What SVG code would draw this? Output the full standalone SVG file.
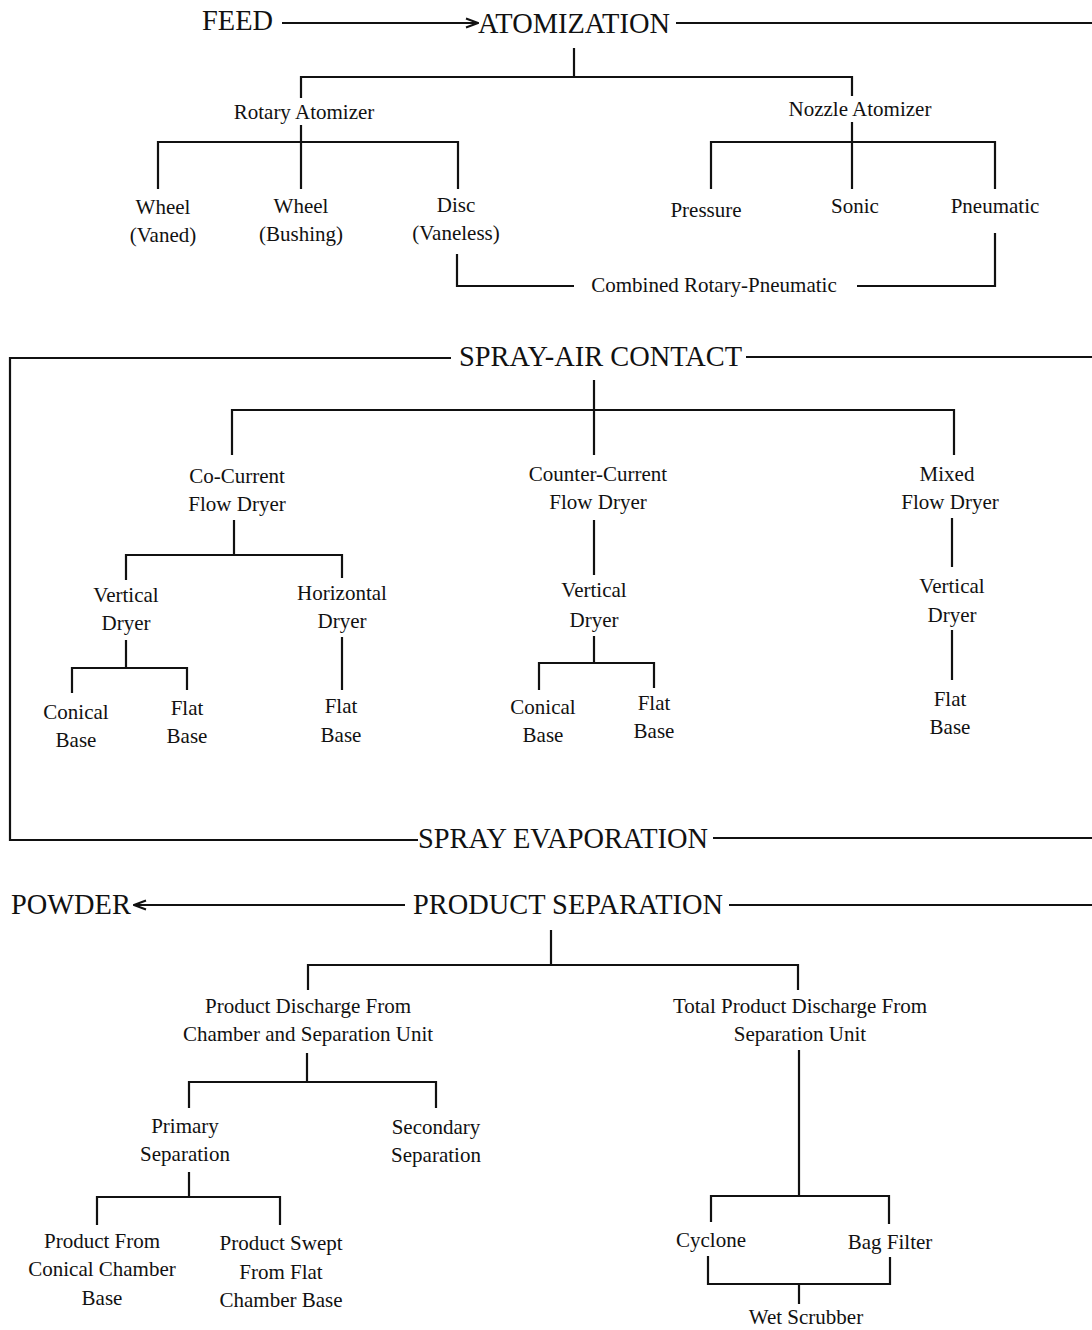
<svg xmlns="http://www.w3.org/2000/svg" width="1092" height="1330" viewBox="0 0 1092 1330">
  <style>
    text { font-family: "Liberation Serif", "Times New Roman", serif; fill: #111; text-anchor: middle; }
    .big { font-size: 28.4px; }
    .lbl { font-size: 21px; }
    .big.start { text-anchor: start; }
    #connectors path, #connectors line { stroke: #111; stroke-width: 2.2; fill: none; }
  </style>
  <defs>
    <marker id="chev" viewBox="0 0 14 12" refX="13" refY="6" markerWidth="14" markerHeight="12" markerUnits="userSpaceOnUse" orient="auto">
      <path d="M1 1.5 L13 6 L1 10.5" fill="none" stroke="#111" stroke-width="2"/>
    </marker>
  </defs>
  <rect width="1092" height="1330" fill="#fff"/>

  <g id="connectors">
    <!-- feed / atomization -->
    <line x1="282" y1="23" x2="478" y2="23" marker-end="url(#chev)"/>
    <line x1="676" y1="23" x2="1092" y2="23"/>
    <line x1="574" y1="48" x2="574" y2="77"/>
    <path d="M301 98 V77 H852 V96"/>
    <path d="M301 125 V189"/>
    <path d="M158 189 V142 H458 V189"/>
    <path d="M852 122 V189"/>
    <path d="M711 189 V142 H995 V189"/>
    <path d="M457 254 V286 H574"/>
    <path d="M857 286 H995 V233"/>

    <!-- spray-air contact frame -->
    <path d="M451 358 H10 V840 H418"/>
    <line x1="746" y1="357" x2="1092" y2="357"/>
    <line x1="713" y1="838" x2="1092" y2="838"/>
    <line x1="594" y1="380" x2="594" y2="455"/>
    <path d="M232 455 V410 H954 V455"/>

    <!-- co-current -->
    <line x1="234" y1="520" x2="234" y2="555"/>
    <path d="M126 580 V555 H342 V578"/>
    <line x1="126" y1="640" x2="126" y2="668"/>
    <path d="M72 693 V668 H187 V690"/>
    <line x1="342" y1="637" x2="342" y2="690"/>

    <!-- counter-current -->
    <line x1="594" y1="520" x2="594" y2="575"/>
    <line x1="594" y1="636" x2="594" y2="663"/>
    <path d="M539 690 V663 H654 V688"/>

    <!-- mixed -->
    <line x1="952" y1="518" x2="952" y2="567"/>
    <line x1="952" y1="630" x2="952" y2="680"/>

    <!-- product separation -->
    <line x1="405" y1="905" x2="134" y2="905" marker-end="url(#chev)"/>
    <line x1="729" y1="905" x2="1092" y2="905"/>
    <line x1="551" y1="930" x2="551" y2="965"/>
    <path d="M308 990 V965 H798 V990"/>
    <line x1="307" y1="1053" x2="307" y2="1082"/>
    <path d="M189 1108 V1082 H436 V1108"/>
    <line x1="189" y1="1172" x2="189" y2="1197"/>
    <path d="M97 1225 V1197 H280 V1225"/>
    <line x1="799" y1="1050" x2="799" y2="1196"/>
    <path d="M711 1222 V1196 H889 V1224"/>
    <path d="M708 1256 V1284 H890 V1257"/>
    <line x1="799" y1="1284" x2="799" y2="1304"/>
  </g>

  <!-- stage headings -->
  <g id="feed"><text class="big start" x="202" y="30">FEED</text></g>
  <g id="atomization"><text class="big start" x="478" y="33">ATOMIZATION</text></g>
  <g id="spray-air-contact"><text class="big start" x="459" y="366">SPRAY-AIR CONTACT</text></g>
  <g id="spray-evaporation"><text class="big start" x="418" y="848">SPRAY EVAPORATION</text></g>
  <g id="powder"><text class="big start" x="11" y="914">POWDER</text></g>
  <g id="product-separation"><text class="big start" x="413" y="914">PRODUCT SEPARATION</text></g>

  <!-- atomizers -->
  <g id="rotary-atomizer"><text class="lbl" x="304" y="119">Rotary Atomizer</text></g>
  <g id="nozzle-atomizer"><text class="lbl" x="860" y="116">Nozzle Atomizer</text></g>
  <g id="wheel-vaned"><text class="lbl" x="163" y="214">Wheel</text><text class="lbl" x="163" y="242">(Vaned)</text></g>
  <g id="wheel-bushing"><text class="lbl" x="301" y="213">Wheel</text><text class="lbl" x="301" y="241">(Bushing)</text></g>
  <g id="disc-vaneless"><text class="lbl" x="456" y="212">Disc</text><text class="lbl" x="456" y="240">(Vaneless)</text></g>
  <g id="pressure"><text class="lbl" x="706" y="217">Pressure</text></g>
  <g id="sonic"><text class="lbl" x="855" y="213">Sonic</text></g>
  <g id="pneumatic"><text class="lbl" x="995" y="213">Pneumatic</text></g>
  <g id="combined"><text class="lbl" x="714" y="292">Combined Rotary-Pneumatic</text></g>

  <!-- dryer types -->
  <g id="co-current"><text class="lbl" x="237" y="483">Co-Current</text><text class="lbl" x="237" y="511">Flow Dryer</text></g>
  <g id="counter-current"><text class="lbl" x="598" y="481">Counter-Current</text><text class="lbl" x="598" y="509">Flow Dryer</text></g>
  <g id="mixed"><text class="lbl" x="947" y="481">Mixed</text><text class="lbl" x="950" y="509">Flow Dryer</text></g>
  <g id="co-vertical"><text class="lbl" x="126" y="602">Vertical</text><text class="lbl" x="126" y="630">Dryer</text></g>
  <g id="co-horizontal"><text class="lbl" x="342" y="600">Horizontal</text><text class="lbl" x="342" y="628">Dryer</text></g>
  <g id="co-conical"><text class="lbl" x="76" y="719">Conical</text><text class="lbl" x="76" y="747">Base</text></g>
  <g id="co-flat"><text class="lbl" x="187" y="715">Flat</text><text class="lbl" x="187" y="743">Base</text></g>
  <g id="co-h-flat"><text class="lbl" x="341" y="713">Flat</text><text class="lbl" x="341" y="742">Base</text></g>
  <g id="cc-vertical"><text class="lbl" x="594" y="597">Vertical</text><text class="lbl" x="594" y="627">Dryer</text></g>
  <g id="cc-conical"><text class="lbl" x="543" y="714">Conical</text><text class="lbl" x="543" y="742">Base</text></g>
  <g id="cc-flat"><text class="lbl" x="654" y="710">Flat</text><text class="lbl" x="654" y="738">Base</text></g>
  <g id="mx-vertical"><text class="lbl" x="952" y="593">Vertical</text><text class="lbl" x="952" y="622">Dryer</text></g>
  <g id="mx-flat"><text class="lbl" x="950" y="706">Flat</text><text class="lbl" x="950" y="734">Base</text></g>

  <!-- separation -->
  <g id="discharge-chamber"><text class="lbl" x="308" y="1013">Product Discharge From</text><text class="lbl" x="308" y="1041">Chamber and Separation Unit</text></g>
  <g id="discharge-unit"><text class="lbl" x="800" y="1013">Total Product Discharge From</text><text class="lbl" x="800" y="1041">Separation Unit</text></g>
  <g id="primary"><text class="lbl" x="185" y="1133">Primary</text><text class="lbl" x="185" y="1161">Separation</text></g>
  <g id="secondary"><text class="lbl" x="436" y="1134">Secondary</text><text class="lbl" x="436" y="1162">Separation</text></g>
  <g id="conical-chamber"><text class="lbl" x="102" y="1248">Product From</text><text class="lbl" x="102" y="1276">Conical Chamber</text><text class="lbl" x="102" y="1305">Base</text></g>
  <g id="flat-chamber"><text class="lbl" x="281" y="1250">Product Swept</text><text class="lbl" x="281" y="1279">From Flat</text><text class="lbl" x="281" y="1307">Chamber Base</text></g>
  <g id="cyclone"><text class="lbl" x="711" y="1247">Cyclone</text></g>
  <g id="bag-filter"><text class="lbl" x="890" y="1249">Bag Filter</text></g>
  <g id="wet-scrubber"><text class="lbl" x="806" y="1324">Wet Scrubber</text></g>
</svg>
